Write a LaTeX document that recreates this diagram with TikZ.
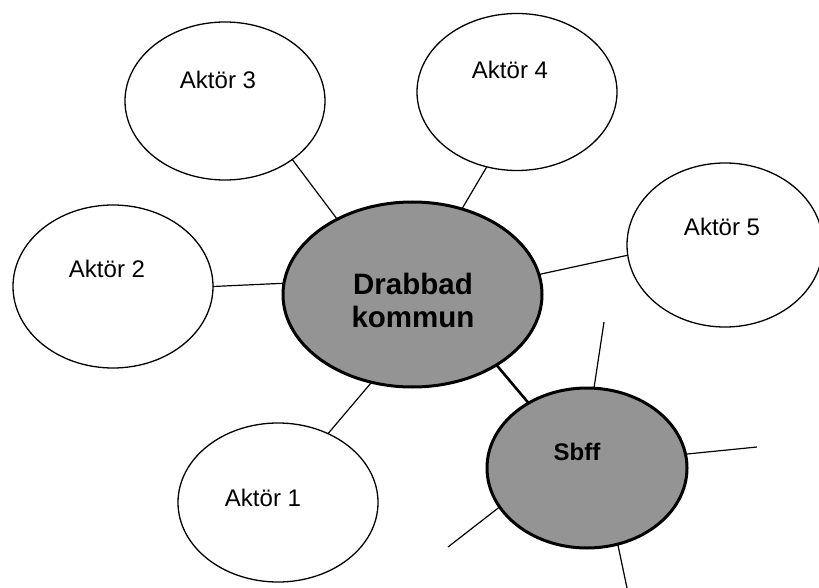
\documentclass[tikz,border=0pt]{standalone}
\usepackage{fontspec}
\setmainfont{Liberation Sans}
\usetikzlibrary{shapes.geometric}
\begin{document}
\begin{tikzpicture}[x=1pt,y=-1pt,
  actor/.style={ellipse,draw=black,line width=1.3pt,fill=white,inner sep=0pt,outer sep=0pt,
    minimum width=200pt,minimum height=158pt},
  hub/.style={ellipse,draw=black,line width=3pt,fill=black!42,inner sep=0pt,outer sep=0pt},
  lbl/.style={font=\fontsize{24}{26}\selectfont,anchor=base,inner sep=0pt},
  hublbl/.style={font=\fontsize{29.5}{33}\selectfont\bfseries,align=center,inner sep=0pt},
  link/.style={line width=1.2pt},
  biglink/.style={line width=2.6pt}]
\useasboundingbox (0,0) rectangle (819,588);
\fill[white] (0,0) rectangle (819,588);
% ellipses
\node[actor] (a3) at (225,101) {};
\node[actor,minimum height=163pt] (a2) at (113,286.5) {};
\node[actor,minimum height=157pt] (a4) at (517,92) {};
\node[actor,minimum width=196pt,minimum height=164pt] (a5) at (725,245) {};
\node[actor,minimum height=159pt] (a1) at (278,502.5) {};
\node[hub,minimum width=259pt,minimum height=185pt] (c) at (412.5,294.5) {};
\node[hub,minimum width=200pt,minimum height=160pt] (s) at (587,468) {};
% free ends
\coordinate (s1) at (604,322);
\coordinate (s2) at (757,447);
\coordinate (s3) at (448,547);
\coordinate (s4) at (627,588);
% connectors
\draw[link] (a3.-41.4) -- (c.135.4);
\draw[link] (a2.east) -- (c.175.8);
\draw[link] (a4.-112.3) -- (c.60.4);
\draw[link] (a5.186) -- (c.9.4);
\draw[link] (a1.54.6) -- (c.-115);
\draw[biglink] (c.-40.7) -- (s.132.7);
\draw[link] (s.85) -- (s1);
\draw[link] (s.8.5) -- (s2);
\draw[link] (s.-156.3) -- (s3);
\draw[link] (s.-68.7) -- (s4);
% labels
\node[lbl] (t3) at (218,89) {Aktör 3};
\node[lbl] (t2) at (107,277) {Aktör 2};
\node[lbl] (t4) at (510,79) {Aktör 4};
\node[lbl] (t5) at (722,235) {Aktör 5};
\node[lbl] (t1) at (263,506) {Aktör 1};
\node[hublbl] (tc) at (413,300) {Drabbad\\kommun};
\node[font=\fontsize{24}{26}\selectfont\bfseries,anchor=base,inner sep=0pt] (ts) at (577,460) {Sbff};
\end{tikzpicture}
\end{document}
